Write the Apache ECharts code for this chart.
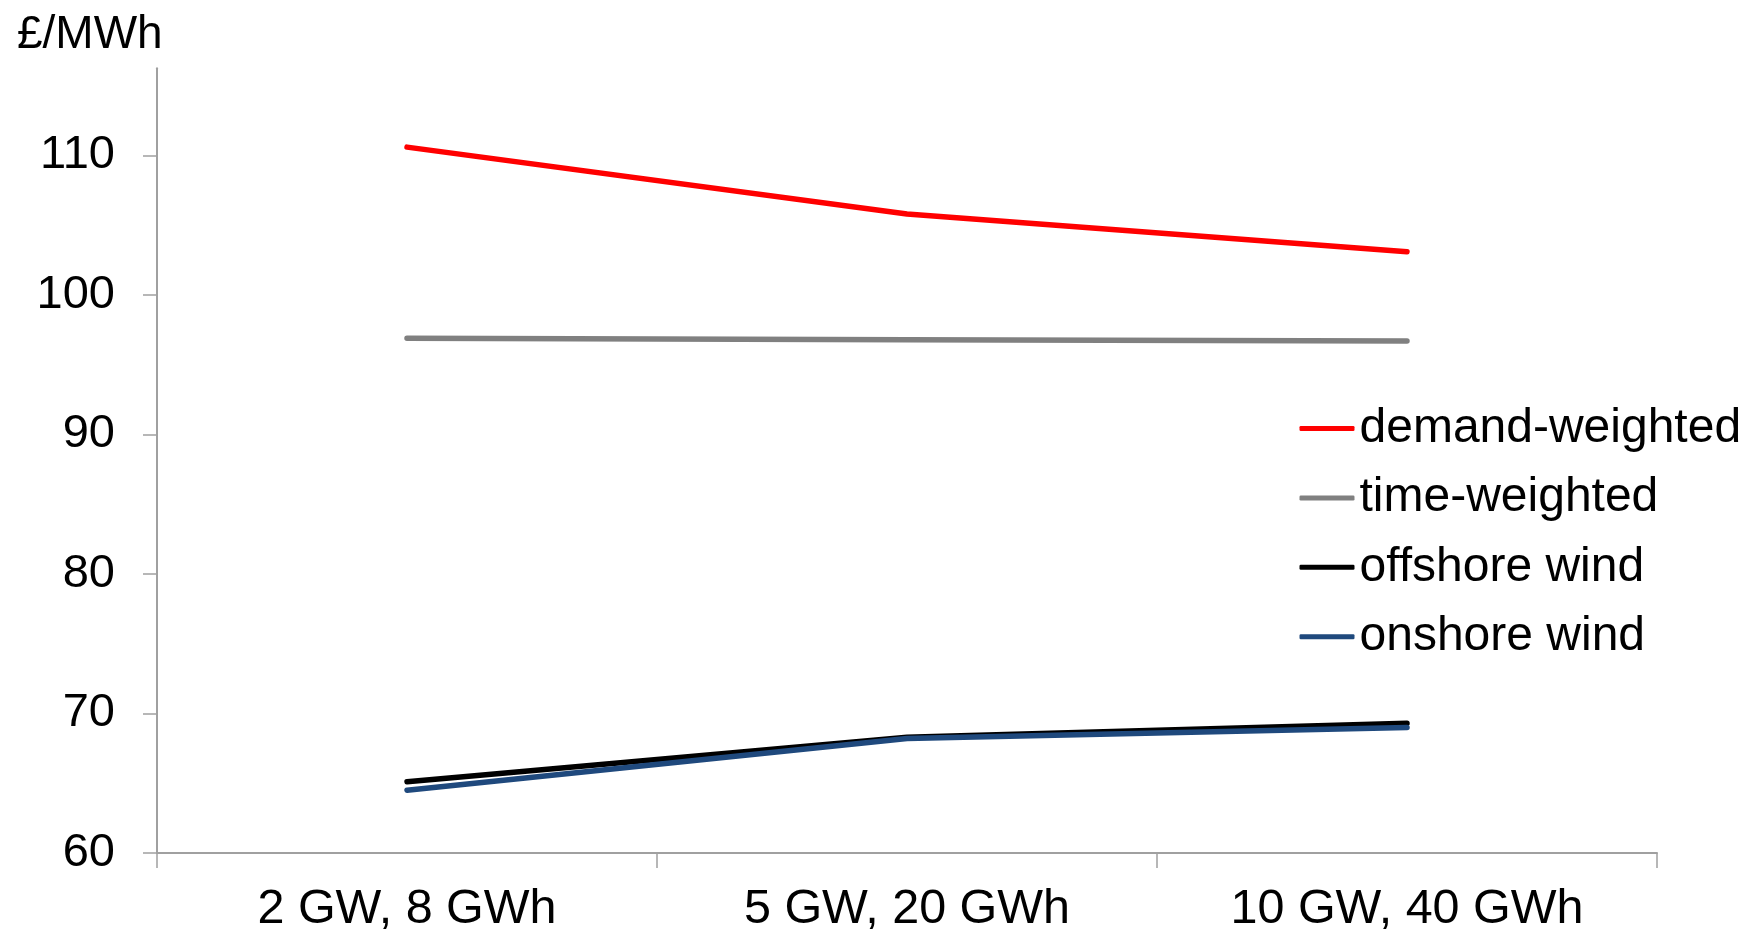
<!DOCTYPE html>
<html>
<head>
<meta charset="utf-8">
<script src="https://cdn.jsdelivr.net/npm/echarts@6/dist/echarts.min.js"></script>
<style>
html,body{margin:0;padding:0;background:#fff;}
#chart{width:1754px;height:934px;}
</style>
</head>
<body>
<div id="chart"></div>
<script>
var categories = ['2 GW, 8 GWh', '5 GW, 20 GWh', '10 GW, 40 GWh'];
var demandWeighted = [110.6, 105.8, 103.1];
var timeWeighted = [96.9, 96.8, 96.7];
var offshoreWind = [65.1, 68.3, 69.3];
var onshoreWind = [64.5, 68.2, 69.0];
var yTicks = [60, 70, 80, 90, 100, 110];
var yUnit = '£/MWh';

var FONT = '"Liberation Sans", Arial, sans-serif';
var AXIS_COLOR = '#a0a0a0';

function lineSeries(name, data, color) {
  return {
    name: name,
    type: 'line',
    data: data,
    symbol: 'none',
    lineStyle: { color: color, width: 5.5, cap: 'round', join: 'round' },
    itemStyle: { color: color },
    emphasis: { disabled: true }
  };
}

var chart = echarts.init(document.getElementById('chart'), null, { renderer: 'canvas' });
chart.setOption({
  animation: false,
  backgroundColor: '#ffffff',
  textStyle: { fontFamily: FONT },
  title: {
    text: yUnit,
    left: 12,
    top: 7,
    textStyle: { fontFamily: FONT, fontSize: 46, fontWeight: 'normal', color: '#000', lineHeight: 46 }
  },
  grid: { left: 157, right: 97, top: 68.3, bottom: 79.5, containLabel: false },
  legend: {
    orient: 'vertical',
    left: 1294.5,
    top: 399.5,
    icon: 'roundRect',
    itemWidth: 55,
    itemHeight: 5,
    itemGap: 21.4,
    textStyle: { fontFamily: FONT, fontSize: 48, color: '#000', lineHeight: 48 },
    data: ['demand-weighted', 'time-weighted', 'offshore wind', 'onshore wind']
  },
  xAxis: {
    type: 'category',
    data: categories,
    boundaryGap: true,
    axisLine: { lineStyle: { color: AXIS_COLOR, width: 2 } },
    axisTick: { show: true, length: 15, lineStyle: { color: AXIS_COLOR, width: 1.5 } },
    axisLabel: { fontFamily: FONT, fontSize: 48.5, color: '#000', margin: 32 },
    splitLine: { show: false }
  },
  yAxis: {
    type: 'value',
    min: 60,
    max: 116.25,
    interval: 10,
    axisLine: { show: true, lineStyle: { color: AXIS_COLOR, width: 2 } },
    axisTick: { show: true, length: 14, customValues: yTicks, lineStyle: { color: AXIS_COLOR, width: 1.5 } },
    axisLabel: { fontFamily: FONT, fontSize: 47, color: '#000', margin: 42, customValues: yTicks },
    splitLine: { show: false }
  },
  series: [
    lineSeries('demand-weighted', demandWeighted, '#ff0000'),
    lineSeries('time-weighted', timeWeighted, '#808080'),
    lineSeries('offshore wind', offshoreWind, '#000000'),
    lineSeries('onshore wind', onshoreWind, '#1f497d')
  ]
});
</script>
</body>
</html>
